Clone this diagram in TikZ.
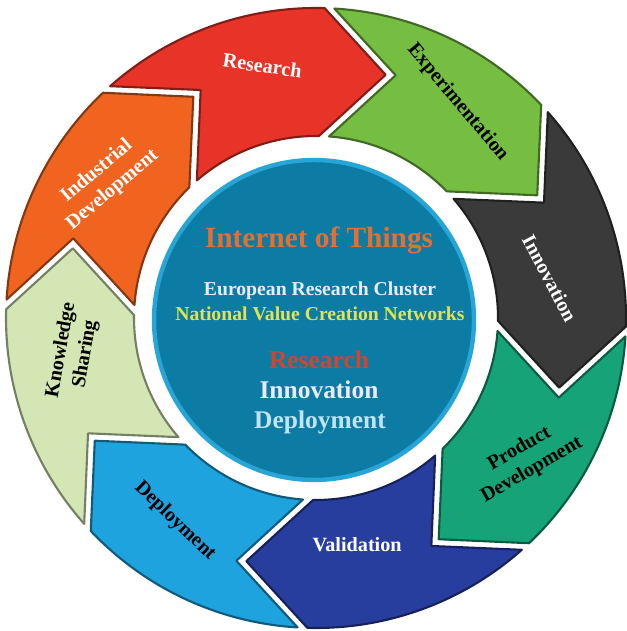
\documentclass[tikz,border=0pt]{standalone}
\usepackage{fontspec}
\setmainfont{Liberation Serif}
\usetikzlibrary{calc, positioning}

\definecolor{ioRed}{RGB}{232, 52, 40}
\definecolor{ioGreen}{RGB}{118, 190, 66}
\definecolor{ioDark}{RGB}{58, 58, 58}
\definecolor{ioTeal}{RGB}{22, 163, 120}
\definecolor{ioNavy}{RGB}{40, 62, 158}
\definecolor{ioSky}{RGB}{30, 163, 222}
\definecolor{ioSage}{RGB}{212, 230, 180}
\definecolor{ioOrange}{RGB}{240, 100, 32}
\definecolor{hubBlue}{RGB}{12, 124, 164}
\definecolor{hubRim}{RGB}{40, 165, 215}
\definecolor{iotOrange}{RGB}{226, 112, 48}
\definecolor{nvcYellow}{RGB}{228, 226, 80}
\definecolor{resRed}{RGB}{212, 68, 44}
\definecolor{depBlue}{RGB}{190, 228, 245}

\begin{document}
\begin{tikzpicture}[
  x=0.02cm, y=0.02cm,
  lbl/.style={font=\fontsize{11.5}{14}\selectfont\bfseries, align=center, inner sep=0pt},
  hubtxt/.style={font=\bfseries, align=center, inner sep=0pt}
]
  \useasboundingbox (0,0) rectangle (626,631);
  \fill[white] (0,0) rectangle (626,631);
  \coordinate (c) at (316,313);

  % ring of chevrons, clockwise
  \foreach \t/\col in {132.5/ioRed, 87.5/ioGreen, 42.5/ioDark, -2.5/ioTeal, -47.5/ioNavy, -92.5/ioSky, -137.5/ioSage, 177.5/ioOrange} {
    \pgfmathsetmacro\h{\t-45}
    \filldraw[fill=\col, draw=\col!55!black, line width=1.2pt, line join=round]
      ($(c)+(\t-0.9:310)$) arc[start angle=\t-0.9, end angle=\h+0.9, radius=310]
      -- ($(c)+(\h:246)+(\h-90:59)$)
      -- ($(c)+(\h+1.6:182)$) arc[start angle=\h+1.6, end angle=\t-1.6, radius=182]
      -- ($(c)+(\t:246)+(\t-90:69)$) -- cycle;
  }

  % hub
  \node[circle, minimum size=6.4cm, fill=hubBlue, draw=hubRim, line width=2.5pt, inner sep=0pt] (hub) at (314,311) {};

  \node[hubtxt, text=iotOrange, font=\fontsize{16.7}{18}\selectfont\bfseries] (iot) at (319,391) {Internet of Things};
  \node[hubtxt, text=white!92!blue, font=\fontsize{11.2}{13}\selectfont\bfseries] (erc) at (320,340) {European Research Cluster};
  \node[hubtxt, text=nvcYellow, font=\fontsize{11.2}{13}\selectfont\bfseries] (nvc) at (320,317) {National Value Creation Networks};
  \node[hubtxt, text=resRed, font=\fontsize{14.5}{16}\selectfont\bfseries] (hres) at (319,271) {Research};
  \node[hubtxt, text=white!92!blue, font=\fontsize{14.5}{16}\selectfont\bfseries] (hinn) at (319,241) {Innovation};
  \node[hubtxt, text=depBlue, font=\fontsize{14.5}{16}\selectfont\bfseries] (hdep) at (320,209) {Deployment};

  % segment labels
  \node[lbl, text=white, rotate=-8] (lres) at ($(c)+(102:258)$) {Research};
  \node[lbl, text=black, rotate=-50] (lexp) at ($(c)+(56.7:258)$) {Experimentation};
  \node[lbl, text=white, rotate=-62] (linn) at ($(c)+(9.7:237)$) {Innovation};
  \node[lbl, text=black, rotate=30] (lprd) at ($(c)+(-34:253)$) {Product\\Development};
  \node[lbl, text=white] (lval) at ($(c)+(-79.7:230)$) {Validation};
  \node[lbl, text=black, rotate=-44] (ldep) at ($(c)+(-124.8:247)$) {Deployment};
  \node[lbl, text=black, rotate=80] (lkno) at ($(c)+(-172:245)$) {Knowledge\\Sharing};
  \node[lbl, text=white, rotate=40] (lind) at ($(c)+(147:252)$) {Industrial\\Development};
\end{tikzpicture}
\end{document}
